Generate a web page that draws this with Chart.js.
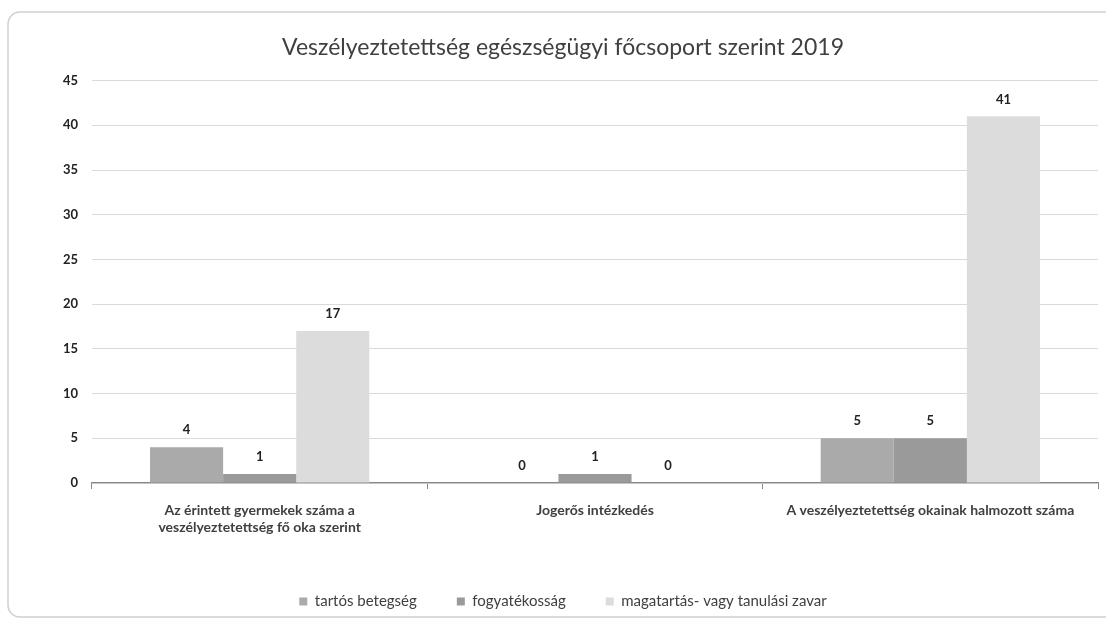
<!DOCTYPE html>
<html>
<head>
<meta charset="utf-8">
<script src="https://cdn.jsdelivr.net/npm/chart.js@4"></script>
<style>
  html, body { margin: 0; padding: 0; background: #ffffff; }
  #wrap { width: 1106px; height: 622px; position: relative; }
</style>
</head>
<body>
<div id="wrap"><canvas id="c" width="1106" height="622"></canvas></div>
<script>
const chartTitle = 'Veszélyeztetettség egészségügyi főcsoport szerint 2019';
const categories = [
  ['Az érintett gyermekek száma a', 'veszélyeztetettség fő oka szerint'],
  'Jogerős intézkedés',
  'A veszélyeztetettség okainak halmozott száma'
];
const seriesNames = ['tartós betegség', 'fogyatékosság', 'magatartás- vagy tanulási zavar'];
const tartosBetegseg = [4, 0, 5];
const fogyatekossag = [1, 1, 5];
const magatartasZavar = [17, 0, 41];
const yTicks = [0, 5, 10, 15, 20, 25, 30, 35, 40, 45];
const seriesColors = ['#aaaaaa', '#9a9a9a', '#dcdcdc'];

const FONT = 'Lato, "Open Sans", sans-serif';

const frame = {
  id: 'frame',
  beforeDraw(chart) {
    const ctx = chart.ctx;
    ctx.save();
    ctx.fillStyle = '#ffffff';
    ctx.fillRect(0, 0, chart.width, chart.height);
    ctx.strokeStyle = '#cfcfcf';
    ctx.lineWidth = 1.5;
    const x = 8, y = 12, w = 1130, h = 605, r = 12;
    ctx.beginPath();
    ctx.moveTo(x + r, y);
    ctx.lineTo(x + w - r, y);
    ctx.arcTo(x + w, y, x + w, y + r, r);
    ctx.lineTo(x + w, y + h - r);
    ctx.arcTo(x + w, y + h, x + w - r, y + h, r);
    ctx.lineTo(x + r, y + h);
    ctx.arcTo(x, y + h, x, y + h - r, r);
    ctx.lineTo(x, y + r);
    ctx.arcTo(x, y, x + r, y, r);
    ctx.closePath();
    ctx.stroke();
    ctx.restore();
  }
};

const valueLabels = {
  id: 'valueLabels',
  afterDatasetsDraw(chart) {
    const ctx = chart.ctx;
    ctx.save();
    ctx.font = 'bold 13px ' + FONT;
    ctx.fillStyle = '#222222';
    ctx.textAlign = 'center';
    ctx.textBaseline = 'middle';
    chart.data.datasets.forEach((ds, i) => {
      const meta = chart.getDatasetMeta(i);
      meta.data.forEach((bar, j) => {
        ctx.fillText(String(ds.data[j]), bar.x, bar.y - 17);
      });
    });
    ctx.restore();
  }
};

new Chart(document.getElementById('c'), {
  type: 'bar',
  data: {
    labels: categories,
    datasets: seriesNames.map((name, i) => ({
      label: name,
      data: [tartosBetegseg, fogyatekossag, magatartasZavar][i],
      backgroundColor: seriesColors[i],
      borderWidth: 0,
      categoryPercentage: 0.654,
      barPercentage: 1.0
    }))
  },
  options: {
    responsive: false,
    animation: false,
    devicePixelRatio: 1,
    layout: { padding: { left: 28, right: 8, top: 0, bottom: 3 } },
    plugins: {
      title: {
        display: true,
        text: chartTitle,
        color: '#404040',
        font: { family: FONT, size: 23, weight: 'normal' },
        padding: { top: 34, bottom: 19 }
      },
      legend: {
        position: 'bottom',
        labels: {
          color: '#404040',
          font: { family: FONT, size: 15 },
          boxWidth: 8,
          boxHeight: 8,
          padding: 40
        }
      },
      tooltip: { enabled: false }
    },
    scales: {
      x: {
        grid: { display: true, drawOnChartArea: false, drawTicks: true, tickLength: 6, color: '#888888', offset: true },
        border: { display: true, color: '#888888', width: 1.2 },
        ticks: {
          color: '#404040',
          font: { family: FONT, size: 14, weight: 'bold', lineHeight: 1.2 },
          padding: 13,
          maxRotation: 0,
          autoSkip: false
        },
        afterFit(scale) { scale.height = 71; }
      },
      y: {
        min: 0,
        max: 45,
        afterBuildTicks(scale) { scale.ticks = yTicks.map(v => ({ value: v })); },
        grid: { color: '#dadada', drawTicks: false, lineWidth: 1 },
        border: { display: false },
        ticks: {
          color: '#222222',
          font: { family: FONT, size: 13, weight: 'bold' },
          padding: 14
        },
        afterFit(scale) { scale.width = 64; }
      }
    }
  },
  plugins: [frame, valueLabels]
});
</script>
</body>
</html>
